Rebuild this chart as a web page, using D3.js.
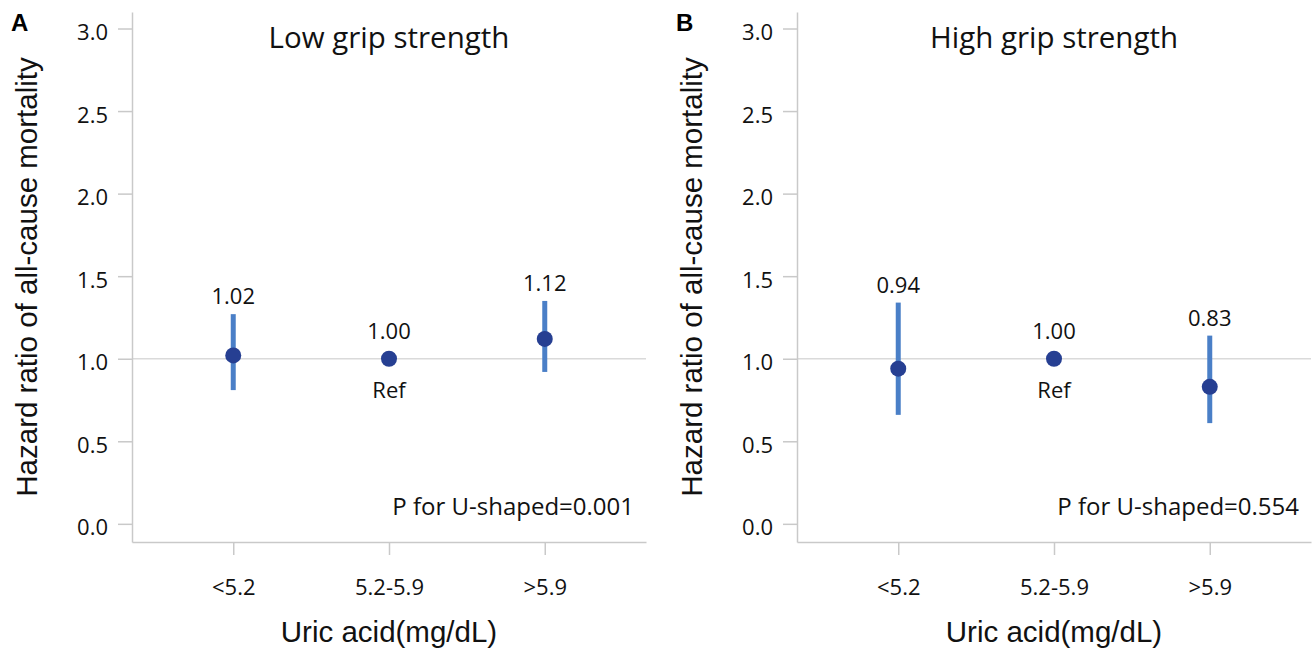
<!DOCTYPE html>
<html>
<head>
<meta charset="utf-8">
<script src="https://cdn.jsdelivr.net/npm/d3@7"></script>
<style>
  body { margin: 0; background: #fff; }
  svg { display: block; }
  .tick text { font-family: "Open Sans", sans-serif; font-size: 22px; fill: #111; }
</style>
</head>
<body>
<svg id="chart" width="1312" height="654"></svg>
<script>
// categories of uric acid
const categories = ['<5.2', '5.2-5.9', '>5.9'];
const panelLetters = ['A', 'B'];
const panelTitles = ['Low grip strength', 'High grip strength'];
const pValues = ['0.001', '0.554'];

// hazard ratios and 95% CI, low grip strength
const hrLow = [1.02, 1.00, 1.12];
const lowerLow = [0.81, null, 0.92];
const upperLow = [1.27, null, 1.35];

// high grip strength
const hrHigh = [0.94, 1.00, 0.83];
const lowerHigh = [0.66, null, 0.61];
const upperHigh = [1.34, null, 1.14];

const yTicks = [0, 0.5, 1.0, 1.5, 2.0, 2.5, 3.0];
const refLabel = 'Ref';

const svg = d3.select('#chart');

const panels = [
  { hr: hrLow, lo: lowerLow, hi: upperLow },
  { hr: hrHigh, lo: lowerHigh, hi: upperHigh }
];

const panelShift = 665,
      plotLeft = 132,
      plotRight = 646,
      plotTop = 12,
      plotBottom = 542;

const y = d3.scaleLinear().domain([-0.11, 3.1]).range([plotBottom, plotTop]);

panels.forEach((p, i) => {
  const g = svg.append('g').attr('transform', `translate(${i * panelShift},0)`);

  const x = d3.scalePoint().domain(categories).range([plotLeft, plotRight]).padding(0.65);

  // reference line at HR = 1
  g.append('line')
    .attr('x1', plotLeft).attr('x2', plotRight)
    .attr('y1', y(1)).attr('y2', y(1))
    .attr('stroke', '#dadada')
    .attr('stroke-width', 1.5);

  // y axis
  const yAxis = g.append('g')
    .attr('transform', `translate(${plotLeft},0)`)
    .call(d3.axisLeft(y).tickValues(yTicks).tickFormat(d3.format('.1f'))
          .tickSize(14).tickSizeOuter(0).tickPadding(10));
  yAxis.selectAll('.tick text').attr('dy', '0.5em');

  // x axis
  const xAxis = g.append('g')
    .attr('transform', `translate(0,${plotBottom})`)
    .call(d3.axisBottom(x).tickSize(13).tickSizeOuter(0).tickPadding(24));

  [yAxis, xAxis].forEach(a => {
    a.select('.domain').attr('stroke', '#c9c9c9').attr('stroke-width', 1.5);
    a.selectAll('.tick line').attr('stroke', '#c9c9c9').attr('stroke-width', 1.5);
  });

  // confidence intervals
  categories.forEach((c, j) => {
    if (p.lo[j] != null) {
      g.append('line')
        .attr('x1', x(c)).attr('x2', x(c))
        .attr('y1', y(p.lo[j])).attr('y2', y(p.hi[j]))
        .attr('stroke', '#4a7fc7')
        .attr('stroke-width', 5);
    }
  });

  // points
  g.selectAll('circle.pt')
    .data(categories)
    .join('circle')
    .attr('class', 'pt')
    .attr('cx', c => x(c))
    .attr('cy', (c, j) => y(p.hr[j]))
    .attr('r', 8)
    .attr('fill', '#263f92');

  // value labels
  g.selectAll('text.val')
    .data(categories)
    .join('text')
    .attr('class', 'val')
    .attr('x', c => x(c))
    .attr('y', (c, j) => p.hi[j] != null ? y(p.hi[j]) - 10 : y(p.hr[j]) - 20)
    .attr('text-anchor', 'middle')
    .attr('font-family', '"Open Sans", sans-serif')
    .attr('font-size', 22)
    .attr('fill', '#111')
    .text((c, j) => p.hr[j].toFixed(2));

  // reference label
  categories.forEach((c, j) => {
    if (p.lo[j] == null) {
      g.append('text')
        .attr('x', x(c))
        .attr('y', y(p.hr[j]) + 39)
        .attr('text-anchor', 'middle')
        .attr('font-family', '"Open Sans", sans-serif')
        .attr('font-size', 22)
        .attr('fill', '#111')
        .text(refLabel);
    }
  });

  // title
  g.append('text')
    .attr('x', (plotLeft + plotRight) / 2)
    .attr('y', 48)
    .attr('text-anchor', 'middle')
    .attr('font-family', '"Open Sans", sans-serif')
    .attr('font-size', 29.5)
    .attr('fill', '#111')
    .text(panelTitles[i]);

  // P for U-shaped
  g.append('text')
    .attr('x', plotRight - 12)
    .attr('y', 515)
    .attr('text-anchor', 'end')
    .attr('font-family', '"Open Sans", sans-serif')
    .attr('font-size', 24)
    .attr('fill', '#111')
    .text('P for U-shaped=' + pValues[i]);

  // axis titles
  g.append('text')
    .attr('x', (plotLeft + plotRight) / 2)
    .attr('y', 642)
    .attr('text-anchor', 'middle')
    .attr('font-family', '"Liberation Sans", Arial, sans-serif')
    .attr('font-size', 29.5)
    .attr('fill', '#111')
    .text('Uric acid(mg/dL)');

  g.append('text')
    .attr('transform', `translate(37,${(plotTop + plotBottom) / 2}) rotate(-90)`)
    .attr('text-anchor', 'middle')
    .attr('font-family', '"Liberation Sans", Arial, sans-serif')
    .attr('font-size', 29.5)
    .attr('fill', '#111')
    .text('Hazard ratio of all-cause mortality');

  // panel letter
  g.append('text')
    .attr('x', 11)
    .attr('y', 31)
    .attr('font-family', '"Liberation Sans", Arial, sans-serif')
    .attr('font-weight', 'bold')
    .attr('font-size', 24)
    .attr('fill', '#000')
    .text(panelLetters[i]);
});
</script>
</body>
</html>
